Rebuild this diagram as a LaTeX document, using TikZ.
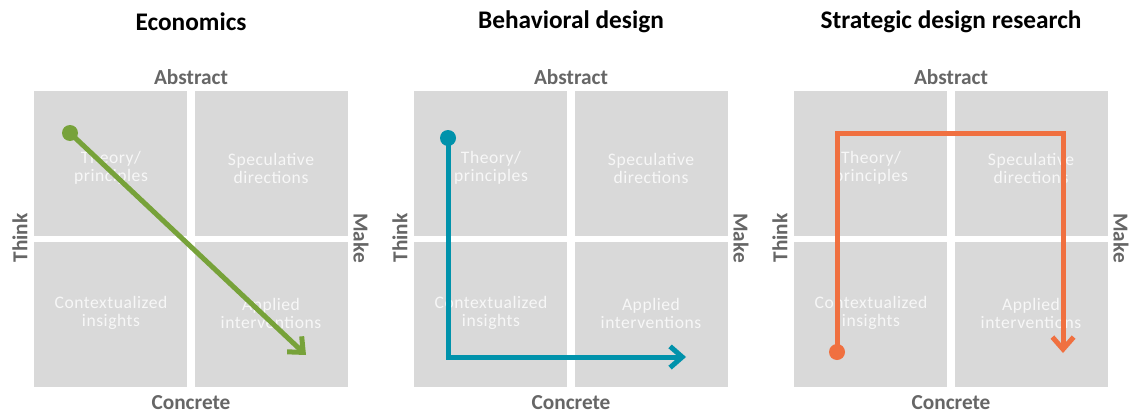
\documentclass[tikz,border=0pt]{standalone}
\usepackage{fontspec}
\setmainfont{Carlito}
\usetikzlibrary{arrows.meta}
\definecolor{QGray}{HTML}{D9D9D9}
\definecolor{QText}{HTML}{F7F7F7}
\definecolor{AxisGray}{HTML}{666666}
\definecolor{EconGreen}{HTML}{77A23A}
\definecolor{BehavTeal}{HTML}{0092AB}
\definecolor{StratOrange}{HTML}{F07040}

\begin{document}
\begin{tikzpicture}[
      x=0.75pt, y=-0.75pt,
      cuadro/.style={rectangle, fill=QGray, minimum width=153*0.75pt,
        minimum height=145*0.75pt, inner sep=0pt},
      texto/.style={align=center, text=QText, inner sep=0pt,
        font=\fontsize{13.2}{13.5}\selectfont\addfontfeature{LetterSpace=3}},
      titulo/.style={font=\fontsize{19}{21}\selectfont\bfseries, text=black},
      eje/.style={font=\fontsize{16}{18}\selectfont\bfseries, text=AxisGray},
      punto/.style={circle, fill=#1, minimum size=16*0.75pt, inner sep=0pt},
      ruta/.style={draw=#1, line width=5*0.75pt, line join=miter,
        -{Straight Barb[length=3.2mm, width=5.6mm]}},
    ]
    \useasboundingbox (0,0) rectangle (1131,414);

    \foreach \p/\dx/\ttl in {econ/0/Economics, behav/380/Behavioral design,
        strat/760/Strategic design research}{
      \node[titulo] (\p-titulo) at (\dx+191,22) {\ttl};
      \node[cuadro] (\p-tl) at (\dx+110.5,163.5) {};
      \node[cuadro] (\p-tr) at (\dx+271.5,163.5) {};
      \node[cuadro] (\p-bl) at (\dx+110.5,314.5) {};
      \node[cuadro] (\p-br) at (\dx+271.5,314.5) {};
      \node[texto] (\p-tl-txt) at (\dx+111,168) {Theory/\\principles};
      \node[texto] (\p-tr-txt) at (\dx+271,168) {Speculative\\directions};
      \node[texto] (\p-bl-txt) at (\dx+111,313) {Contextualized\\insights};
      \node[texto] (\p-br-txt) at (\dx+271,313) {Applied\\interventions};
      \node[eje] (\p-abs)   at (\dx+191,77)  {Abstract};
      \node[eje] (\p-conc)  at (\dx+191,403) {Concrete};
      \node[eje, rotate=90]  (\p-think) at (\dx+20,238)  {Think};
      \node[eje, rotate=-90] (\p-make)  at (\dx+361,238) {Make};
    }

    % Economics: straight diagonal
    \node[punto=EconGreen] (econ-dot) at (70,133) {};
    \coordinate (econ-end) at (306,355);
    \draw[ruta=EconGreen] (econ-dot.center) -- (econ-end);

    % Behavioral design: down then right
    \node[punto=BehavTeal] (behav-dot) at (448,138) {};
    \coordinate (behav-end) at (686,357);
    \draw[ruta=BehavTeal] (behav-dot.center) |- (behav-end);

    % Strategic design research: up, across, down
    \node[punto=StratOrange] (strat-dot) at (837,352) {};
    \coordinate (strat-top) at (837,133);
    \coordinate (strat-end) at (1063,353);
    \draw[ruta=StratOrange] (strat-dot.center) -- (strat-top) -| (strat-end);

  \end{tikzpicture}
\end{document}
